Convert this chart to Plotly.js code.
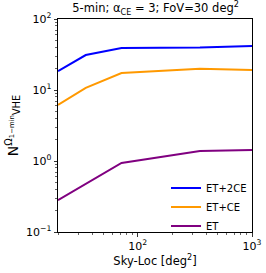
<!DOCTYPE html>
<html>
<head>
<meta charset="utf-8">
<script src="https://cdn.plot.ly/plotly-3.0.1.min.js"></script>
<style>html,body{margin:0;padding:0;background:#fff;}#chart{width:266px;height:273px;}</style>
</head>
<body>
<div id="chart"></div>
<script>
const skyLoc = [20, 35, 72, 350, 1000];
const et2ce = [18.5, 31.1, 39.1, 39.7, 41.7];
const etce = [6.15, 10.7, 17.3, 20.0, 19.1];
const et = [0.28, 0.48, 0.94, 1.38, 1.43];
const seriesNames = ["ET+2CE", "ET+CE", "ET"];
const seriesColors = ["#0000ff", "#ff9900", "#800080"];
const seriesData = [et2ce, etce, et];
const xMajor = [100, 1000];
const xMajorText = ["10<sup>2</sup>", "10<sup>3</sup>"];
const yMajor = [0.1, 1, 10, 100];
const yMajorText = ["10<sup>−1</sup>", "10<sup>0</sup>", "10<sup>1</sup>", "10<sup>2</sup>"];

function minorTicks(lo, hi) {
  const out = [];
  for (let d = Math.floor(Math.log10(lo)); d <= Math.ceil(Math.log10(hi)); d++) {
    for (let m = 2; m <= 9; m++) {
      const v = m * Math.pow(10, d);
      if (v >= lo && v <= hi) out.push(v);
    }
  }
  return out;
}
const xMinor = minorTicks(20, 1000);
const yMinor = minorTicks(0.1, 100);

const traces = seriesData.map((ys, i) => ({
  x: skyLoc, y: ys, type: "scatter", mode: "lines", name: seriesNames[i],
  line: {color: seriesColors[i], width: 2}
}));
traces.push({x: [], y: [], xaxis: "x2", yaxis: "y2", type: "scatter", mode: "lines", showlegend: false});

const font = {family: "DejaVu Sans, sans-serif", size: 11, color: "#000"};
const axisBase = {
  type: "log", showgrid: false, zeroline: false, showline: true, linecolor: "#000",
  linewidth: 1, mirror: true, ticks: "outside", ticklen: 3.5, tickwidth: 0.8,
  tickcolor: "#000", tickfont: font
};
const xr = [Math.log10(20), 3];
const yr = [-1, 2];
const layout = {
  width: 266, height: 273,
  margin: {l: 58, r: 14, t: 19, b: 41},
  paper_bgcolor: "#fff", plot_bgcolor: "#fff",
  font: font,
  showlegend: true,
  title: {text: "5-min; α<sub>CE</sub> = 3; FoV=30 deg<sup>2</sup>", font: {family: "DejaVu Sans, sans-serif", size: 11.5, color: "#000"}, x: 0.585, xanchor: "center", y: 0.985, yanchor: "top"},
  xaxis: Object.assign({}, axisBase, {range: xr, tickmode: "array", tickvals: xMajor, ticktext: xMajorText,
    title: {text: "Sky-Loc [deg<sup>2</sup>]", font: {family: "DejaVu Sans, sans-serif", size: 11.5}, standoff: 2}}),
  yaxis: Object.assign({}, axisBase, {range: yr, tickmode: "array", tickvals: yMajor, ticktext: yMajorText,
    title: {text: "N<sup>Ω<sub>1−min</sub></sup><sub>VHE</sub>", font: {family: "DejaVu Sans, sans-serif", size: 14}, standoff: 4}}),
  xaxis2: {type: "log", range: xr, overlaying: "x", anchor: "y2", side: "bottom", showgrid: false, zeroline: false,
    showline: false, ticks: "outside", ticklen: 2, tickwidth: 0.6, tickcolor: "#000",
    tickmode: "array", tickvals: xMinor, ticktext: xMinor.map(() => ""), showticklabels: false},
  yaxis2: {type: "log", range: yr, overlaying: "y", anchor: "x2", side: "left", showgrid: false, zeroline: false,
    showline: false, ticks: "outside", ticklen: 2, tickwidth: 0.6, tickcolor: "#000",
    tickmode: "array", tickvals: yMinor, ticktext: yMinor.map(() => ""), showticklabels: false},
  legend: {x: 1.0, y: 0.275, xanchor: "right", yanchor: "top", bgcolor: "rgba(255,255,255,0)",
    borderwidth: 0, font: {family: "DejaVu Sans, sans-serif", size: 10}, tracegroupgap: 0, itemwidth: 30}
};
Plotly.newPlot("chart", traces, layout, {displayModeBar: false, staticPlot: true});
</script>
</body>
</html>
